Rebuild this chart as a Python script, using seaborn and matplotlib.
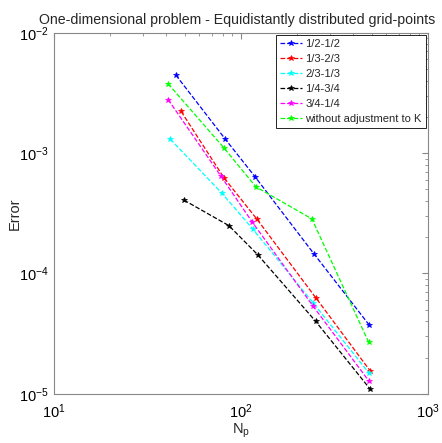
import matplotlib
matplotlib.use("Agg")
import matplotlib.pyplot as plt
import seaborn as sns
import pandas as pd
import numpy as np

labels = ["1/2-1/2", "1/3-2/3", "2/3-1/3", "1/4-3/4", "3/4-1/4", "without adjustment to K"]
colors = ["#0000ff", "#ff0000", "#00ffff", "#000000", "#ff00ff", "#00ff00"]

np_blue = [44.9, 82.1, 118.8, 245.6, 485]
err_blue = [4.45e-3, 1.32e-3, 6.39e-4, 1.46e-4, 3.74e-5]
np_red = [47.9, 81.4, 121.8, 252.6, 490]
err_red = [2.22e-3, 6.20e-4, 2.83e-4, 6.23e-5, 1.56e-5]
np_cyan = [41.9, 79.1, 115.5, 242.7, 485.4]
err_cyan = [1.307e-3, 4.65e-4, 2.35e-4, 5.73e-5, 1.48e-5]
np_black = [49.6, 86.2, 122.8, 250.9, 490]
err_black = [4.07e-4, 2.50e-4, 1.436e-4, 4.01e-5, 1.10e-5]
np_magenta = [40.8, 78.2, 114.9, 242.7, 482]
err_magenta = [2.79e-3, 6.44e-4, 2.68e-4, 5.38e-5, 1.288e-5]
np_green = [40.8, 81.1, 120.3, 239.8, 482]
err_green = [3.77e-3, 1.107e-3, 5.25e-4, 2.84e-4, 2.69e-5]

xs = [np_blue, np_red, np_cyan, np_black, np_magenta, np_green]
ys = [err_blue, err_red, err_cyan, err_black, err_magenta, err_green]

sns.set_style("white")
plt.rcParams['font.family'] = ['Liberation Sans', 'DejaVu Sans']
plt.rcParams['mathtext.fontset'] = 'custom'
plt.rcParams['mathtext.rm'] = 'Liberation Sans'
plt.rcParams['mathtext.it'] = 'Liberation Sans'

fig = plt.figure(figsize=(4.42, 4.43), dpi=100)
ax = fig.add_axes([0.122, 0.111, 0.846, 0.815])

for lab, col, x, y in zip(labels, colors, xs, ys):
    df = pd.DataFrame({"Np": x, "Error": y})
    sns.lineplot(data=df, x="Np", y="Error", ax=ax, color=col, linestyle="--",
                 linewidth=0.9, marker="*", markersize=4, markeredgewidth=0.5,
                 markeredgecolor=col, sort=False, estimator=None, label=lab)

ax.set_xscale("log")
ax.set_yscale("log")
ax.set_xlim(10, 1000)
ax.set_ylim(1e-5, 1e-2)

gray = "#888888"
for s in ax.spines.values():
    s.set_color(gray)
    s.set_linewidth(0.8)
ax.tick_params(which="both", direction="in", top=True, right=True, color=gray,
               labelsize=10.5, labelcolor="black")
ax.tick_params(which="major", length=4)
ax.tick_params(which="minor", length=2)
ax.tick_params(axis="x", pad=6)

ax.set_xlabel(r"N$_\mathrm{p}$", fontsize=10.5, labelpad=1)
ax.set_ylabel("Error", fontsize=10.5)
ax.yaxis.set_label_coords(-0.085, 0.5)
fig.text(0.537, 0.955, "One-dimensional problem - Equidistantly distributed grid-points",
         fontsize=10.2, ha="center", va="center")

leg = ax.legend(loc="upper right", fontsize=8, frameon=True, fancybox=False,
                edgecolor="black", framealpha=1, handlelength=2.0,
                handletextpad=0.3, borderpad=0.35, labelspacing=0.45,
                borderaxespad=0.2)
leg.get_frame().set_linewidth(0.6)

fig.savefig("out.png", dpi=100)
